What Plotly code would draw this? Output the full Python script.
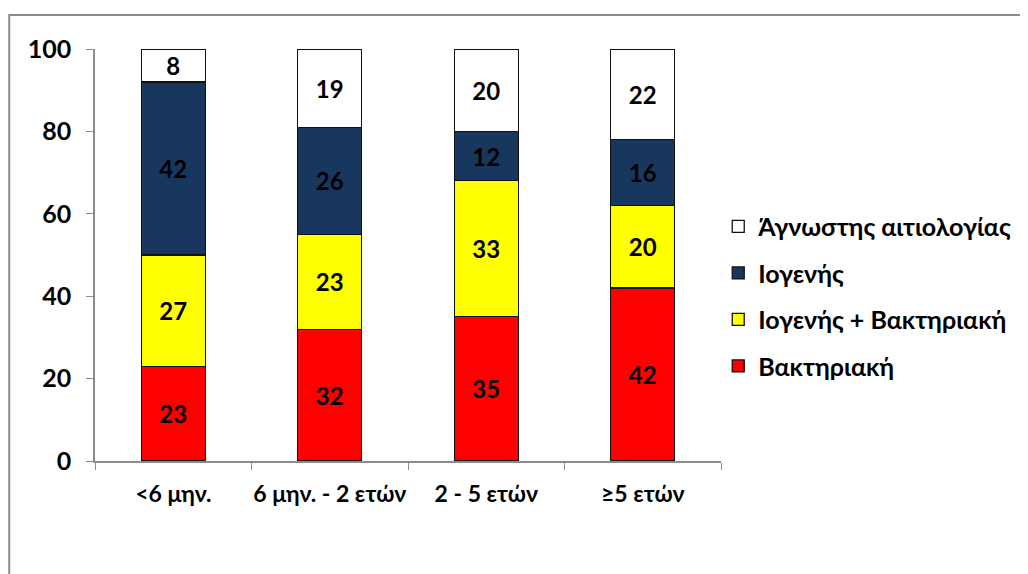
import plotly.graph_objects as go

# --- Data ---
categories = ["<6 μην.", "6 μην. - 2 ετών", "2 - 5 ετών", "≥5 ετών"]
series_names = ["Βακτηριακή", "Ιογενής + Βακτηριακή", "Ιογενής", "Άγνωστης αιτιολογίας"]
bakteriaki = [23, 32, 35, 42]
iogenis_bakt = [27, 23, 33, 20]
iogenis = [42, 26, 12, 16]
agnostis = [8, 19, 20, 22]
y_ticks = [0, 20, 40, 60, 80, 100]

COLORS = ["#FF0000", "#FFFF00", "#17375E", "#FFFFFF"]
FONT = "Lato, 'Noto Sans', sans-serif"

fig = go.Figure()

all_series = [bakteriaki, iogenis_bakt, iogenis, agnostis]
for i, (name, vals, color) in enumerate(zip(series_names, all_series, COLORS)):
    fig.add_trace(go.Bar(
        x=categories,
        y=vals,
        name=name,
        legendgroup=name,
        legendrank=1000 - i,  # legend top-down is reverse of stack order
        marker=dict(color=color, line=dict(color="#111111", width=1.3)),
        text=vals,
        textposition="inside",
        insidetextanchor="middle",
        textangle=0,
        textfont=dict(family=FONT, size=24, color="black", weight="bold"),
        width=0.41,
    ))

# page body adds 8px offset, so figure is 8px smaller than the window
fig.update_layout(
    barmode="stack",
    width=1020,
    height=566,
    plot_bgcolor="white",
    paper_bgcolor="white",
    font=dict(family=FONT, size=20, color="black", weight="bold"),
    margin=dict(l=87, r=306, t=41, b=113),
    uniformtext=dict(mode="show", minsize=24),
    legend=dict(
        x=0.994, y=0.40, xanchor="left", yanchor="middle",
        traceorder="grouped", tracegroupgap=11,
        font=dict(family=FONT, size=25, color="black", weight="bold"),
        itemwidth=30,
    ),
    shapes=[dict(
        type="rect", xref="paper", yref="paper",
        x0=-0.137, x1=1.6, y0=-0.5, y1=1.0825,
        line=dict(color="#8c8c8c", width=2), fillcolor="rgba(0,0,0,0)", layer="below",
    )],
)

fig.update_xaxes(
    showline=True, linecolor="#8c8c8c", linewidth=1.5,
    ticks="outside", tickson="boundaries", ticklen=7, tickcolor="#8c8c8c",
    ticklabelstandoff=12, tickangle=0, automargin=False,
    tickfont=dict(family=FONT, size=23, color="black", weight="bold"),
    showgrid=False,
)
fig.update_yaxes(
    range=[0, 100], tickvals=y_ticks,
    showline=True, linecolor="#8c8c8c", linewidth=1.5,
    ticks="outside", ticklen=7, tickcolor="#8c8c8c",
    ticklabelstandoff=10, automargin=False,
    tickfont=dict(family=FONT, size=25, color="black", weight="bold"),
    showgrid=False, zeroline=False,
)

fig.write_html("out.html")
